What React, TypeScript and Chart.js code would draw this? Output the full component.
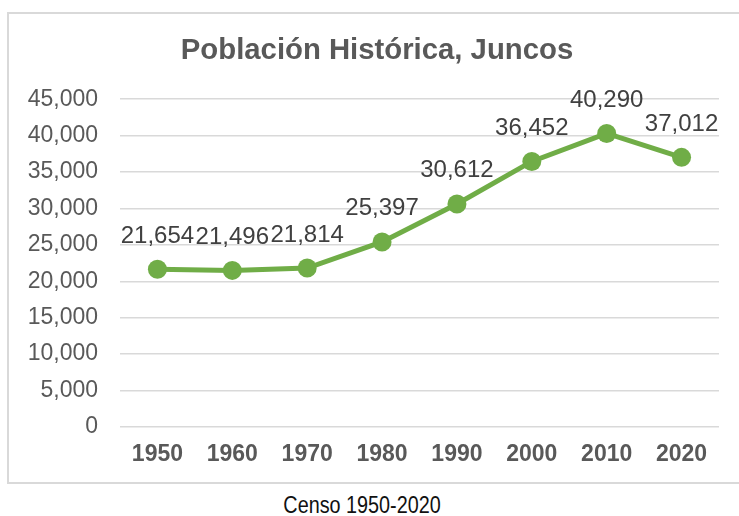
import React, { useEffect, useRef } from "react";
import { Chart, registerables } from "chart.js";

Chart.register(...registerables);

const categories = ["1950", "1960", "1970", "1980", "1990", "2000", "2010", "2020"];
const population = [21654, 21496, 21814, 25397, 30612, 36452, 40290, 37012];
const yMax = 45000;
const yStep = 5000;
const titleText = "Población Histórica, Juncos";
const captionText = "Censo 1950-2020";

const GREEN = "#70AD47";

const dataLabelPlugin = {
  id: "dataLabels",
  afterDatasetsDraw(chart: any) {
    const ctx = chart.ctx;
    const meta = chart.getDatasetMeta(0);
    ctx.save();
    ctx.font = "24px 'Liberation Sans', Arial, sans-serif";
    ctx.fillStyle = "#404040";
    ctx.textAlign = "center";
    ctx.textBaseline = "alphabetic";
    meta.data.forEach((pt: any, i: number) => {
      const v = chart.data.datasets[0].data[i] as number;
      ctx.fillText(v.toLocaleString("en-US"), pt.x, pt.y - 26.5);
    });
    ctx.restore();
  },
};

export default function App() {
  const ref = useRef<HTMLCanvasElement | null>(null);

  useEffect(() => {
    if (!ref.current) return;
    const chart = new Chart(ref.current, {
      type: "line",
      data: {
        labels: categories,
        datasets: [
          {
            data: population,
            borderColor: GREEN,
            backgroundColor: GREEN,
            borderWidth: 5,
            pointRadius: 9.5,
            pointHoverRadius: 9.5,
            pointBackgroundColor: GREEN,
            pointBorderColor: GREEN,
            pointBorderWidth: 0,
            tension: 0,
            clip: false as any,
          },
        ],
      },
      options: {
        responsive: false,
        maintainAspectRatio: false,
        animation: false,
        layout: { padding: { left: 0, right: 0, top: 0, bottom: 0 } },
        plugins: {
          legend: { display: false },
          tooltip: { enabled: false },
          title: {
            display: true,
            text: titleText,
            color: "#595959",
            font: { family: "'Liberation Sans', Arial, sans-serif", size: 29.3, weight: "bold" },
            padding: { top: 19, bottom: 31 },
          },
        },
        scales: {
          x: {
            offset: true,
            grid: { display: false, drawTicks: false },
            border: { display: false },
            ticks: {
              color: "#595959",
              padding: 14,
              font: { family: "'Liberation Sans', Arial, sans-serif", size: 23, weight: "bold" },
              maxRotation: 0,
              autoSkip: false,
            },
            afterFit: (s: any) => {
              s.height = 55;
            },
          },
          y: {
            min: 0,
            max: yMax,
            grid: { color: "#d9d9d9", lineWidth: 1.5, drawTicks: false },
            border: { display: false },
            ticks: {
              stepSize: yStep,
              color: "#595959",
              padding: 22,
              font: { family: "'Liberation Sans', Arial, sans-serif", size: 23 },
              callback: (v: any) => Number(v).toLocaleString("en-US"),
            },
            afterFit: (s: any) => {
              s.width = 111;
            },
          },
          yRight: {
            position: "right",
            display: true,
            grid: { display: false, drawTicks: false },
            border: { display: false },
            ticks: { display: false },
            afterFit: (s: any) => {
              s.width = 26;
            },
          },
        },
      },
      plugins: [dataLabelPlugin],
    });
    return () => chart.destroy();
  }, []);

  return (
    <div
      style={{
        position: "fixed",
        left: 0,
        top: 0,
        width: 739,
        height: 516,
        overflow: "hidden",
        background: "#ffffff",
      }}
    >
      <div
        style={{
          position: "absolute",
          left: 7,
          top: 12,
          width: 736,
          height: 468,
          border: "2px solid #d9d9d9",
          background: "#ffffff",
        }}
      >
        <canvas ref={ref} width={736} height={468} style={{ display: "block" }} />
      </div>
      <div
        style={{
          position: "absolute",
          left: 262,
          top: 491,
          width: 200,
          textAlign: "center",
          fontFamily: "'Liberation Sans Narrow', 'Arial Narrow', 'Liberation Sans', sans-serif",
          fontSize: 23,
          lineHeight: "28px",
          color: "#111111",
          transform: "scaleX(0.86)",
          transformOrigin: "center",
          whiteSpace: "nowrap",
        }}
      >
        {captionText}
      </div>
    </div>
  );
}
